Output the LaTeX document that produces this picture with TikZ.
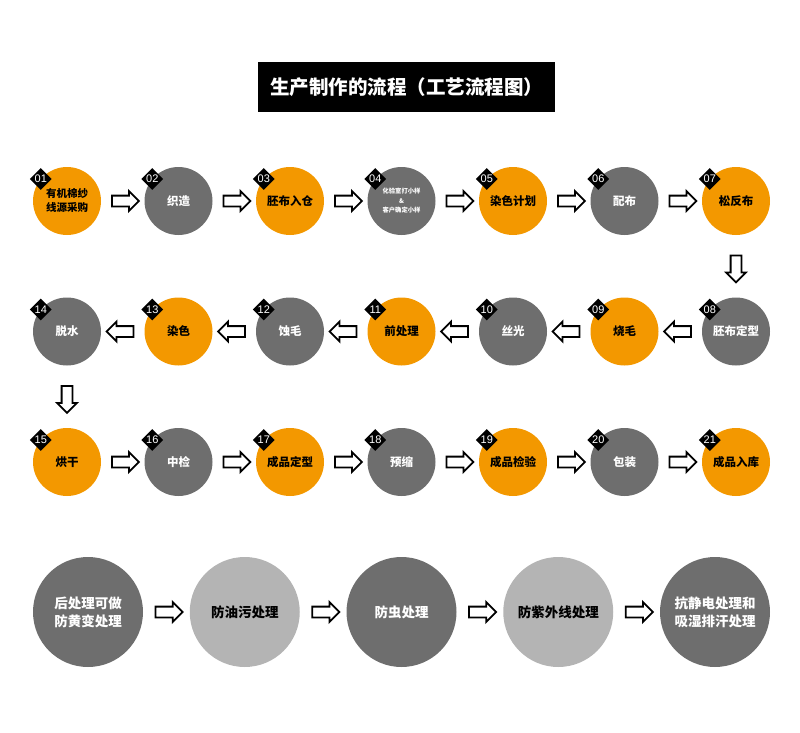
\documentclass[tikz,border=0pt]{standalone}
\usepackage{fontspec}
\setmainfont{Noto Sans CJK SC}
\newfontfamily\numfont{Liberation Sans}
\usepackage{tikz}
\usetikzlibrary{shapes.geometric,shapes.arrows,calc}
\definecolor{stepor}{RGB}{243,152,0}
\definecolor{stepgr}{RGB}{110,110,110}
\definecolor{steplt}{RGB}{180,180,180}
\tikzstyle{orstep} = [circle, fill=stepor, text=black, minimum size=68pt,
inner sep=0pt, align=center, font=\fontsize{11.5}{14}\selectfont\bfseries]
\tikzstyle{grstep} = [orstep, fill=stepgr, text=white]
\tikzstyle{badge} = [diamond, fill=black, text=white, minimum size=22pt,
inner sep=0pt, font=\fontsize{11}{11}\selectfont\numfont]
\tikzstyle{bigdark} = [circle, fill=stepgr, text=white, minimum size=110pt,
inner sep=0pt, align=center, font=\fontsize{13.5}{18}\selectfont\bfseries]
\tikzstyle{biglight} = [bigdark, fill=steplt, text=black]
\tikzstyle{harrow} = [single arrow, draw=black, fill=white, line width=1.8pt,
minimum height=27pt, inner xsep=0pt, inner ysep=4.5pt,
single arrow head extend=4.5pt]
\tikzstyle{headbox} = [fill=black, text=white, minimum width=297pt,
minimum height=50pt, font=\fontsize{19.5}{20}\selectfont\bfseries]

\begin{document}
\begin{tikzpicture}[x=1pt, y=-1pt, node distance=111.5pt]
    \useasboundingbox (0,0) rectangle (800,733);
    % Title
    \node [headbox] (head) at (406.5,87) {生产制作的流程（工艺流程图）};

    % Place nodes
    \node [orstep, font=\fontsize{10.5}{14}\selectfont\bfseries] (s01) at (67,201)
    {有机棉纱\\线源采购};
    \node [grstep, right of=s01] (s02) {织造};
    \node [orstep, right of=s02] (s03) {胚布入仓};
    \node [grstep, right of=s03, font=\fontsize{6.3}{9.5}\selectfont\bfseries] (s04)
    {化验室打小样\\\&\\客户确定小样};
    \node [orstep, right of=s04] (s05) {染色计划};
    \node [grstep, right of=s05] (s06) {配布};
    \node [orstep, right of=s06] (s07) {松反布};
    \node [grstep, below of=s07, node distance=130.5pt] (s08) {胚布定型};
    \node [orstep, left of=s08] (s09) {烧毛};
    \node [grstep, left of=s09] (s10) {丝光};
    \node [orstep, left of=s10] (s11) {前处理};
    \node [grstep, left of=s11] (s12) {蚀毛};
    \node [orstep, left of=s12] (s13) {染色};
    \node [grstep, left of=s13] (s14) {脱水};
    \node [orstep, below of=s14, node distance=130.5pt] (s15) {烘干};
    \node [grstep, right of=s15] (s16) {中检};
    \node [orstep, right of=s16] (s17) {成品定型};
    \node [grstep, right of=s17] (s18) {预缩};
    \node [orstep, right of=s18] (s19) {成品检验};
    \node [grstep, right of=s19] (s20) {包装};
    \node [orstep, right of=s20] (s21) {成品入库};

    \node [bigdark] (post1) at (88,612) {后处理可做\\防黄变处理};
    \node [biglight, right of=post1, node distance=156.75pt] (post2) {防油污处理};
    \node [bigdark, right of=post2, node distance=156.75pt] (post3) {防虫处理};
    \node [biglight, right of=post3, node distance=156.75pt] (post4) {防紫外线处理};
    \node [bigdark, right of=post4, node distance=156.75pt] (post5)
    {抗静电处理和\\吸湿排汗处理};

    % Place badges
    \node [badge] (n01) at (s01.140) {01};
    \node [badge] (n02) at (s02.140) {02};
    \node [badge] (n03) at (s03.140) {03};
    \node [badge] (n04) at (s04.140) {04};
    \node [badge] (n05) at (s05.140) {05};
    \node [badge] (n06) at (s06.140) {06};
    \node [badge] (n07) at (s07.140) {07};
    \node [badge] (n08) at (s08.140) {08};
    \node [badge] (n09) at (s09.140) {09};
    \node [badge] (n10) at (s10.140) {10};
    \node [badge] (n11) at (s11.140) {11};
    \node [badge] (n12) at (s12.140) {12};
    \node [badge] (n13) at (s13.140) {13};
    \node [badge] (n14) at (s14.140) {14};
    \node [badge] (n15) at (s15.140) {15};
    \node [badge] (n16) at (s16.140) {16};
    \node [badge] (n17) at (s17.140) {17};
    \node [badge] (n18) at (s18.140) {18};
    \node [badge] (n19) at (s19.140) {19};
    \node [badge] (n20) at (s20.140) {20};
    \node [badge] (n21) at (s21.140) {21};

    % Draw arrows
    \node [harrow] (a01) at ($(s01)!0.5!(s02)$) {};
    \node [harrow] (a02) at ($(s02)!0.5!(s03)$) {};
    \node [harrow] (a03) at ($(s03)!0.5!(s04)$) {};
    \node [harrow] (a04) at ($(s04)!0.5!(s05)$) {};
    \node [harrow] (a05) at ($(s05)!0.5!(s06)$) {};
    \node [harrow] (a06) at ($(s06)!0.5!(s07)$) {};
    \node [harrow, rotate=-90] (a07) at ($(s07)!0.5!(s08)$) {};
    \node [harrow, rotate=180] (a08) at ($(s08)!0.5!(s09)$) {};
    \node [harrow, rotate=180] (a09) at ($(s09)!0.5!(s10)$) {};
    \node [harrow, rotate=180] (a10) at ($(s10)!0.5!(s11)$) {};
    \node [harrow, rotate=180] (a11) at ($(s11)!0.5!(s12)$) {};
    \node [harrow, rotate=180] (a12) at ($(s12)!0.5!(s13)$) {};
    \node [harrow, rotate=180] (a13) at ($(s13)!0.5!(s14)$) {};
    \node [harrow, rotate=-90] (a14) at ($(s14)!0.5!(s15)$) {};
    \node [harrow] (a15) at ($(s15)!0.5!(s16)$) {};
    \node [harrow] (a16) at ($(s16)!0.5!(s17)$) {};
    \node [harrow] (a17) at ($(s17)!0.5!(s18)$) {};
    \node [harrow] (a18) at ($(s18)!0.5!(s19)$) {};
    \node [harrow] (a19) at ($(s19)!0.5!(s20)$) {};
    \node [harrow] (a20) at ($(s20)!0.5!(s21)$) {};
    \node [harrow] (b1) at ($(post1)!0.5!(post2)$) {};
    \node [harrow] (b2) at ($(post2)!0.5!(post3)$) {};
    \node [harrow] (b3) at ($(post3)!0.5!(post4)$) {};
    \node [harrow] (b4) at ($(post4)!0.5!(post5)$) {};
\end{tikzpicture}
\end{document}
